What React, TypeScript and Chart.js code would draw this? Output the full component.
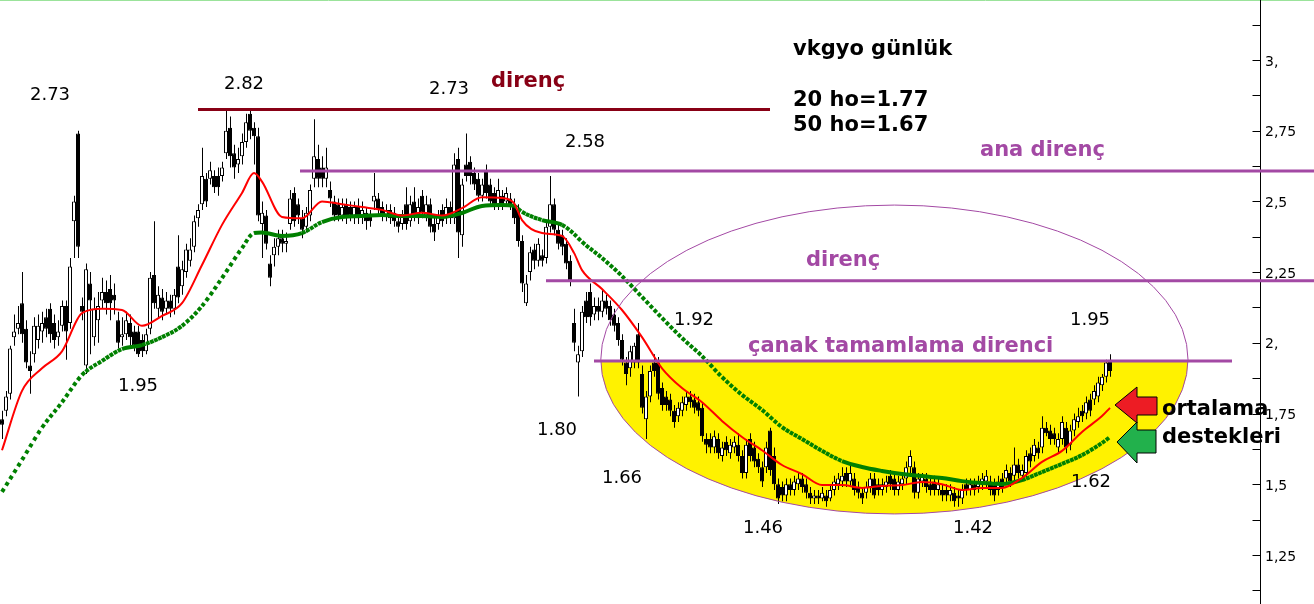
import React, { useEffect, useRef } from "react";
import { Chart, registerables } from "chart.js";

Chart.register(...registerables);

// daily candles: [open, high, low, close]
const candles: number[][] = [
  [1.73,1.76,1.66,1.71],[1.76,1.83,1.74,1.81],[1.82,1.99,1.80,1.98],[2.02,2.10,1.99,2.04],[2.05,2.13,2.03,2.07],
  [2.14,2.25,2.00,2.03],[2.05,2.08,1.91,1.93],[1.92,1.97,1.82,1.90],[1.96,2.09,1.93,2.06],[2.01,2.10,1.98,2.06],
  [2.04,2.11,2.00,2.07],[2.09,2.12,2.02,2.05],[2.12,2.14,2.00,2.03],[2.07,2.10,1.98,2.01],[2.02,2.08,1.99,2.04],
  [2.06,2.15,2.04,2.13],[2.13,2.15,1.94,2.04],[2.07,2.30,2.05,2.27],[2.43,2.52,2.30,2.50],[2.74,2.75,2.30,2.34],
  [2.13,2.16,2.08,2.11],[1.92,2.28,1.89,2.26],[2.21,2.25,1.96,2.15],[2.02,2.16,1.99,2.12],[2.08,2.18,2.00,2.13],
  [2.15,2.23,2.12,2.18],[2.18,2.22,2.10,2.14],[2.19,2.24,2.08,2.14],[2.17,2.21,2.10,2.15],[2.08,2.11,1.98,2.00],
  [2.02,2.09,1.99,2.03],[2.03,2.11,2.01,2.08],[2.07,2.10,1.99,2.02],[2.04,2.06,1.97,1.99],[2.04,2.06,1.95,1.96],
  [2.01,2.03,1.95,1.97],[1.97,2.05,1.96,2.03],[2.05,2.25,2.03,2.23],[2.24,2.43,2.12,2.14],[2.12,2.20,2.09,2.17],
  [2.16,2.19,2.08,2.11],[2.12,2.18,2.10,2.15],[2.15,2.17,2.09,2.12],[2.12,2.19,2.10,2.17],[2.27,2.38,2.14,2.16],
  [2.20,2.29,2.17,2.26],[2.25,2.35,2.23,2.33],[2.29,2.37,2.27,2.33],[2.34,2.45,2.32,2.43],[2.44,2.49,2.41,2.47],
  [2.49,2.69,2.47,2.59],[2.58,2.60,2.48,2.50],[2.58,2.64,2.56,2.61],[2.59,2.61,2.53,2.55],[2.59,2.62,2.52,2.55],
  [2.59,2.64,2.57,2.62],[2.67,2.82,2.65,2.75],[2.76,2.80,2.62,2.66],[2.67,2.70,2.58,2.62],[2.63,2.69,2.60,2.65],
  [2.66,2.74,2.63,2.71],[2.71,2.81,2.69,2.78],[2.81,2.83,2.72,2.75],[2.76,2.78,2.63,2.73],[2.73,2.76,2.43,2.45],
  [2.42,2.50,2.30,2.46],[2.45,2.47,2.33,2.35],[2.28,2.31,2.20,2.23],[2.31,2.37,2.27,2.34],[2.34,2.40,2.31,2.37],
  [2.37,2.40,2.32,2.35],[2.35,2.39,2.32,2.36],[2.42,2.54,2.40,2.51],[2.53,2.55,2.41,2.43],[2.49,2.51,2.42,2.45],
  [2.44,2.47,2.37,2.40],[2.41,2.48,2.39,2.46],[2.45,2.56,2.43,2.54],[2.58,2.79,2.55,2.66],[2.65,2.70,2.55,2.58],
  [2.62,2.66,2.55,2.58],[2.58,2.69,2.55,2.62],[2.54,2.57,2.48,2.51],[2.50,2.52,2.43,2.45],[2.49,2.51,2.43,2.45],
  [2.45,2.51,2.43,2.48],[2.49,2.51,2.42,2.44],[2.48,2.50,2.43,2.45],[2.45,2.50,2.42,2.48],[2.48,2.51,2.42,2.44],
  [2.45,2.50,2.42,2.47],[2.46,2.48,2.40,2.43],[2.45,2.47,2.41,2.43],[2.50,2.60,2.47,2.52],[2.51,2.53,2.45,2.47],
  [2.48,2.50,2.43,2.45],[2.45,2.49,2.43,2.47],[2.47,2.49,2.42,2.44],[2.46,2.48,2.41,2.43],[2.43,2.45,2.39,2.41],
  [2.42,2.47,2.40,2.45],[2.49,2.55,2.40,2.42],[2.43,2.52,2.41,2.49],[2.50,2.55,2.43,2.45],[2.44,2.51,2.42,2.48],
  [2.52,2.54,2.44,2.46],[2.45,2.52,2.43,2.49],[2.49,2.51,2.39,2.41],[2.42,2.45,2.36,2.39],[2.42,2.47,2.40,2.45],
  [2.47,2.49,2.41,2.43],[2.44,2.51,2.42,2.48],[2.48,2.50,2.42,2.44],[2.44,2.67,2.42,2.63],[2.65,2.69,2.30,2.39],
  [2.38,2.58,2.34,2.56],[2.63,2.74,2.57,2.59],[2.64,2.66,2.56,2.59],[2.60,2.62,2.54,2.56],[2.58,2.60,2.50,2.52],
  [2.52,2.58,2.50,2.56],[2.61,2.63,2.51,2.53],[2.56,2.58,2.48,2.50],[2.53,2.55,2.47,2.49],[2.49,2.58,2.47,2.54],
  [2.52,2.54,2.47,2.49],[2.50,2.55,2.48,2.53],[2.51,2.53,2.47,2.49],[2.49,2.51,2.42,2.44],[2.47,2.49,2.34,2.36],
  [2.36,2.38,2.18,2.21],[2.14,2.24,2.13,2.21],[2.25,2.34,2.22,2.32],[2.33,2.35,2.26,2.29],[2.29,2.37,2.27,2.35],
  [2.31,2.33,2.27,2.29],[2.30,2.43,2.28,2.41],[2.41,2.59,2.39,2.49],[2.49,2.51,2.38,2.40],[2.40,2.42,2.33,2.35],
  [2.38,2.40,2.31,2.34],[2.35,2.37,2.26,2.28],[2.29,2.31,2.20,2.22],[2.07,2.12,1.97,2.00],[1.93,1.99,1.81,1.96],
  [1.97,2.13,1.95,2.11],[2.15,2.18,2.07,2.09],[2.18,2.21,2.06,2.09],[2.10,2.16,2.08,2.13],[2.13,2.16,2.08,2.11],
  [2.11,2.19,2.09,2.15],[2.15,2.17,2.10,2.12],[2.13,2.15,2.06,2.08],[2.10,2.12,2.04,2.06],[2.07,2.09,1.99,2.01],
  [2.01,2.03,1.92,1.94],[1.93,1.95,1.85,1.89],[1.91,1.99,1.88,1.97],[1.93,2.00,1.91,1.99],[2.03,2.07,1.91,1.93],
  [1.89,1.92,1.75,1.77],[1.73,1.83,1.66,1.81],[1.81,1.92,1.79,1.90],[1.93,1.96,1.88,1.90],[1.93,1.95,1.80,1.82],
  [1.84,1.86,1.76,1.78],[1.81,1.83,1.76,1.78],[1.80,1.82,1.74,1.76],[1.76,1.78,1.70,1.72],[1.74,1.79,1.72,1.77],
  [1.76,1.81,1.74,1.79],[1.78,1.83,1.76,1.81],[1.81,1.83,1.77,1.79],[1.80,1.82,1.75,1.77],[1.79,1.81,1.74,1.76],
  [1.77,1.79,1.65,1.67],[1.66,1.68,1.61,1.64],[1.66,1.68,1.61,1.63],[1.63,1.69,1.61,1.67],[1.66,1.68,1.59,1.61],
  [1.60,1.65,1.58,1.63],[1.65,1.67,1.60,1.62],[1.61,1.66,1.59,1.64],[1.63,1.67,1.61,1.65],[1.64,1.68,1.58,1.60],
  [1.60,1.62,1.52,1.54],[1.54,1.66,1.52,1.64],[1.66,1.68,1.58,1.60],[1.63,1.65,1.56,1.58],[1.59,1.61,1.54,1.56],
  [1.56,1.58,1.49,1.51],[1.56,1.65,1.54,1.63],[1.69,1.70,1.53,1.55],[1.60,1.63,1.48,1.50],[1.50,1.52,1.43,1.45],
  [1.49,1.51,1.44,1.46],[1.46,1.52,1.44,1.50],[1.50,1.52,1.46,1.48],[1.48,1.53,1.46,1.51],[1.50,1.54,1.48,1.52],
  [1.52,1.54,1.47,1.49],[1.50,1.52,1.45,1.47],[1.47,1.49,1.43,1.45],[1.45,1.48,1.43,1.46],[1.46,1.48,1.43,1.45],
  [1.45,1.49,1.44,1.47],[1.46,1.48,1.42,1.44],[1.45,1.50,1.44,1.48],[1.48,1.53,1.46,1.51],[1.50,1.54,1.48,1.52],
  [1.51,1.56,1.49,1.53],[1.54,1.56,1.49,1.51],[1.51,1.57,1.49,1.54],[1.52,1.54,1.46,1.48],[1.49,1.51,1.45,1.47],
  [1.47,1.49,1.43,1.45],[1.47,1.51,1.45,1.49],[1.49,1.54,1.47,1.52],[1.52,1.54,1.45,1.46],[1.50,1.52,1.46,1.48],
  [1.48,1.52,1.46,1.50],[1.49,1.53,1.47,1.51],[1.53,1.55,1.48,1.50],[1.52,1.54,1.46,1.48],[1.48,1.53,1.46,1.51],
  [1.50,1.54,1.48,1.52],[1.52,1.58,1.50,1.56],[1.56,1.62,1.54,1.60],[1.56,1.58,1.45,1.47],[1.47,1.54,1.45,1.52],
  [1.51,1.54,1.49,1.53],[1.52,1.54,1.47,1.49],[1.50,1.52,1.46,1.48],[1.51,1.53,1.46,1.48],[1.48,1.52,1.46,1.50],
  [1.48,1.50,1.44,1.46],[1.48,1.50,1.44,1.46],[1.46,1.50,1.44,1.48],[1.47,1.49,1.42,1.44],[1.46,1.48,1.42,1.45],
  [1.45,1.50,1.43,1.48],[1.50,1.52,1.46,1.48],[1.48,1.52,1.46,1.50],[1.50,1.52,1.46,1.48],[1.49,1.53,1.47,1.51],
  [1.50,1.54,1.48,1.52],[1.51,1.55,1.49,1.53],[1.51,1.53,1.46,1.48],[1.50,1.52,1.44,1.46],[1.48,1.53,1.46,1.51],
  [1.52,1.54,1.47,1.49],[1.52,1.57,1.50,1.55],[1.54,1.56,1.49,1.51],[1.53,1.63,1.51,1.57],[1.57,1.59,1.52,1.54],
  [1.53,1.57,1.51,1.55],[1.54,1.62,1.52,1.60],[1.61,1.63,1.56,1.58],[1.60,1.66,1.58,1.64],[1.63,1.65,1.59,1.61],
  [1.63,1.74,1.61,1.70],[1.70,1.72,1.67,1.68],[1.69,1.71,1.64,1.66],[1.68,1.70,1.64,1.66],[1.63,1.68,1.61,1.66],
  [1.66,1.74,1.64,1.72],[1.70,1.72,1.61,1.63],[1.64,1.71,1.62,1.69],[1.69,1.75,1.67,1.73],[1.72,1.77,1.70,1.74],
  [1.76,1.78,1.72,1.74],[1.75,1.81,1.73,1.79],[1.80,1.82,1.74,1.76],[1.80,1.85,1.78,1.83],[1.81,1.88,1.79,1.86],
  [1.85,1.89,1.83,1.88],[1.88,1.94,1.86,1.93],[1.94,1.96,1.88,1.90],
];

// moving averages at these candle indices
const maIndex = [0,5,10,15,20,25,30,35,40,45,50,55,60,63,65,70,75,80,85,90,95,100,105,110,115,120,125,128,130,135,140,143,145,150,155,160,165,170,175,180,185,190,195,200,205,210,215,220,225,230,235,240,245,250,255,260,265,270,275,277];
const ma20 = [1.62,1.83,1.91,1.97,2.105,2.12,2.116,2.06,2.095,2.14,2.275,2.417,2.53,2.60,2.57,2.445,2.44,2.50,2.49,2.48,2.47,2.45,2.46,2.45,2.476,2.515,2.512,2.494,2.434,2.388,2.378,2.318,2.257,2.19,2.116,2.02,1.91,1.84,1.79,1.724,1.667,1.62,1.568,1.536,1.497,1.497,1.487,1.494,1.497,1.508,1.50,1.48,1.487,1.487,1.522,1.579,1.618,1.685,1.741,1.77];
const ma50 = [1.473,1.586,1.70,1.79,1.886,1.936,1.978,1.992,2.02,2.06,2.13,2.229,2.335,2.388,2.39,2.378,2.388,2.427,2.445,2.448,2.452,2.448,2.448,2.445,2.459,2.484,2.487,2.484,2.463,2.434,2.417,2.385,2.357,2.30,2.236,2.162,2.088,2.017,1.953,1.879,1.816,1.763,1.702,1.66,1.618,1.582,1.561,1.547,1.536,1.529,1.522,1.511,1.504,1.501,1.515,1.543,1.572,1.603,1.646,1.667];

// resistance levels: 2.82 (direnç), ana direnç, direnç, çanak tamamlama direnci
const levels = [2.825, 2.607, 2.219, 1.936];

const yTickValues = [1.25, 1.5, 1.75, 2, 2.25, 2.5, 2.75, 3];
const yTickLabels = ["1,25", "1,5", "1,75", "2,", "2,25", "2,5", "2,75", "3,"];

const Y_MIN = 1.0766;
const Y_MAX = 3.212;
const X_MIN = -0.5;
const X_MAX = 314.5;

const FONT = "'DejaVu Sans', Verdana, sans-serif";
const PURPLE = "#a349a4";
const DARK_RED = "#880015";

// annotation layout (pixels)
const numberNotes: [string, number, number][] = [
  ["2.73", 50, 100], ["2.82", 244, 89], ["2.73", 449, 94], ["2.58", 585, 147],
  ["1.92", 694, 325], ["1.95", 1090, 325], ["1.95", 138, 391], ["1.80", 557, 435],
  ["1.66", 622, 483], ["1.62", 1091, 487], ["1.46", 763, 533], ["1.42", 973, 533],
];
const boldNotes: [string, number, number, string][] = [
  ["vkgyo günlük", 793, 55, "#000"],
  ["20 ho=1.77", 793, 106, "#000"],
  ["50 ho=1.67", 793, 131, "#000"],
  ["direnç", 491, 87, DARK_RED],
  ["ana direnç", 980, 156, PURPLE],
  ["direnç", 806, 266, PURPLE],
  ["çanak tamamlama direnci", 748, 352, PURPLE],
  ["ortalama", 1162, 415, "#000"],
  ["destekleri", 1162, 443, "#000"],
];

const bowl = { cx: 223.1, cy: 1.941, rx: 73.4, ry: 0.546 };

function drawArrow(ctx: any, pts: number[][], fill: string) {
  ctx.beginPath();
  pts.forEach((p, i) => (i ? ctx.lineTo(p[0], p[1]) : ctx.moveTo(p[0], p[1])));
  ctx.closePath();
  ctx.fillStyle = fill;
  ctx.fill();
  ctx.lineWidth = 1;
  ctx.strokeStyle = "#000";
  ctx.stroke();
}

const overlayPlugin = {
  id: "overlay",
  beforeDatasetsDraw(chart: any) {
    const { ctx, scales } = chart;
    const xs = scales.x, ys = scales.y;
    const cx = xs.getPixelForValue(bowl.cx);
    const cy = ys.getPixelForValue(bowl.cy);
    const rx = xs.getPixelForValue(bowl.cx + bowl.rx) - cx;
    const ry = ys.getPixelForValue(bowl.cy - bowl.ry) - cy;
    const top = ys.getPixelForValue(levels[3]);
    ctx.save();
    ctx.beginPath();
    ctx.rect(0, top, chart.width, chart.height - top);
    ctx.clip();
    ctx.beginPath();
    ctx.ellipse(cx, cy, rx, ry, 0, 0, Math.PI * 2);
    ctx.fillStyle = "#fff200";
    ctx.fill();
    ctx.restore();
  },
  afterDatasetsDraw(chart: any) {
    const { ctx, scales, chartArea } = chart;
    const xs = scales.x, ys = scales.y;
    ctx.save();
    const cx = xs.getPixelForValue(bowl.cx);
    const cy = ys.getPixelForValue(bowl.cy);
    const rx = xs.getPixelForValue(bowl.cx + bowl.rx) - cx;
    const ry = ys.getPixelForValue(bowl.cy - bowl.ry) - cy;
    ctx.beginPath();
    ctx.ellipse(cx, cy, rx, ry, 0, 0, Math.PI * 2);
    ctx.strokeStyle = PURPLE;
    ctx.lineWidth = 1;
    ctx.stroke();

    ctx.beginPath();
    ctx.moveTo(0, 0.5);
    ctx.lineTo(chart.width, 0.5);
    ctx.strokeStyle = "#9be39b";
    ctx.stroke();

    const ax = Math.round(chartArea.right) + 0.5;
    ctx.beginPath();
    ctx.moveTo(ax, 0);
    ctx.lineTo(ax, chart.height);
    ctx.strokeStyle = "#000";
    ctx.stroke();
    for (let v = 1.125; v <= 3.13; v += 0.125) {
      const py = Math.round(ys.getPixelForValue(v)) + 0.5;
      ctx.beginPath();
      ctx.moveTo(ax - 8, py);
      ctx.lineTo(ax, py);
      ctx.stroke();
    }

    const seg = (val: number, a: number, b: number | null, color: string) => {
      const py = ys.getPixelForValue(val);
      ctx.beginPath();
      ctx.moveTo(xs.getPixelForValue(a), py);
      ctx.lineTo(b === null ? chart.width : xs.getPixelForValue(b), py);
      ctx.strokeStyle = color;
      ctx.lineWidth = 3;
      ctx.stroke();
    };
    seg(levels[0], 49, 192, DARK_RED);
    seg(levels[1], 74.5, null, PURPLE);
    seg(levels[2], 136, null, PURPLE);
    seg(levels[3], 148, 307.5, PURPLE);

    drawArrow(ctx, [[1115, 405], [1137, 387], [1137, 397], [1157, 397], [1157, 415], [1137, 415], [1137, 423]], "#ed1c24");
    drawArrow(ctx, [[1117, 442], [1137, 422], [1137, 430], [1156, 430], [1156, 453], [1137, 453], [1137, 463]], "#22b14c");

    ctx.textBaseline = "alphabetic";
    ctx.textAlign = "center";
    ctx.fillStyle = "#000";
    ctx.font = `18px ${FONT}`;
    numberNotes.forEach(([t, x, y]) => ctx.fillText(t, x, y));
    ctx.textAlign = "left";
    ctx.font = `bold 21px ${FONT}`;
    boldNotes.forEach(([t, x, y, c]) => {
      ctx.fillStyle = c;
      ctx.fillText(t, x, y);
    });
    ctx.restore();
  },
};

export default function App() {
  const ref = useRef<HTMLCanvasElement>(null);
  useEffect(() => {
    const canvas = ref.current;
    if (!canvas) return;
    const chart = new Chart(canvas, {
      type: "bar",
      data: {
        datasets: [
          {
            type: "line",
            label: "20 ho",
            data: maIndex.map((i, k) => ({ x: i, y: ma20[k] })),
            borderColor: "#ff0000",
            borderWidth: 2,
            pointRadius: 0,
            cubicInterpolationMode: "monotone",
            xAxisID: "x",
          },
          {
            type: "line",
            label: "50 ho",
            data: maIndex.map((i, k) => ({ x: i, y: ma50[k] })),
            borderColor: "#008000",
            borderWidth: 4,
            pointRadius: 0,
            cubicInterpolationMode: "monotone",
            xAxisID: "x",
            segment: {
              borderDash: (c: any) => {
                const n = maIndex[c.p1DataIndex] - maIndex[c.p0DataIndex];
                const len = Math.hypot(c.p1.x - c.p0.x, c.p1.y - c.p0.y);
                const period = n > 0 ? len / n : 4;
                if (period < 4.3) return [];
                const on = 3.8;
                return [on, period - on];
              },
            },
          },
          {
            type: "bar",
            label: "body",
            data: candles.map((c, i) => ({ x: i, y: [Math.min(c[0], c[3]), Math.max(c[0], c[3])] })),
            backgroundColor: candles.map((c) => (c[3] >= c[0] ? "#ffffff" : "#000000")),
            borderColor: "#000000",
            borderWidth: 1,
            borderSkipped: false,
            barThickness: 4,
            grouped: false,
            inflateAmount: 0,
            xAxisID: "x",
          },
          {
            type: "bar",
            label: "wick",
            data: candles.map((c, i) => ({ x: i, y: [c[2], c[1]] })),
            backgroundColor: "#000000",
            borderWidth: 0,
            barThickness: 1,
            grouped: false,
            inflateAmount: 0,
            xAxisID: "xw",
          },
        ],
      } as any,
      options: {
        responsive: false,
        devicePixelRatio: 1,
        animation: false,
        events: [],
        layout: { padding: 0, autoPadding: false },
        plugins: { legend: { display: false }, tooltip: { enabled: false } },
        scales: {
          x: { type: "linear", display: false, min: X_MIN, max: X_MAX, offset: false, grid: { offset: false } },
          xw: { type: "linear", display: false, min: X_MIN - 0.125, max: X_MAX - 0.125, offset: false, grid: { offset: false } },
          y: {
            type: "linear",
            position: "right",
            min: Y_MIN,
            max: Y_MAX,
            grid: { display: false, drawTicks: false },
            border: { display: false },
            ticks: {
              autoSkip: false,
              padding: 5,
              labelOffset: 2,
              color: "#000",
              font: { family: FONT, size: 14 },
              callback: (v: any) => {
                const k = yTickValues.findIndex((t) => Math.abs(t - Number(v)) < 1e-6);
                return k >= 0 ? yTickLabels[k] : "";
              },
            },
            afterBuildTicks: (axis: any) => {
              axis.ticks = yTickValues.map((v) => ({ value: v }));
            },
            afterFit: (axis: any) => {
              axis.width = 54;
              axis.paddingTop = 0;
              axis.paddingBottom = 0;
            },
          },
        },
      } as any,
      plugins: [overlayPlugin],
    });
    return () => chart.destroy();
  }, []);
  return (
    <div style={{ position: "fixed", left: 0, top: 0, width: 1314, height: 604, background: "#fff" }}>
      <canvas ref={ref} width={1314} height={604} style={{ display: "block", width: 1314, height: 604 }} />
    </div>
  );
}
